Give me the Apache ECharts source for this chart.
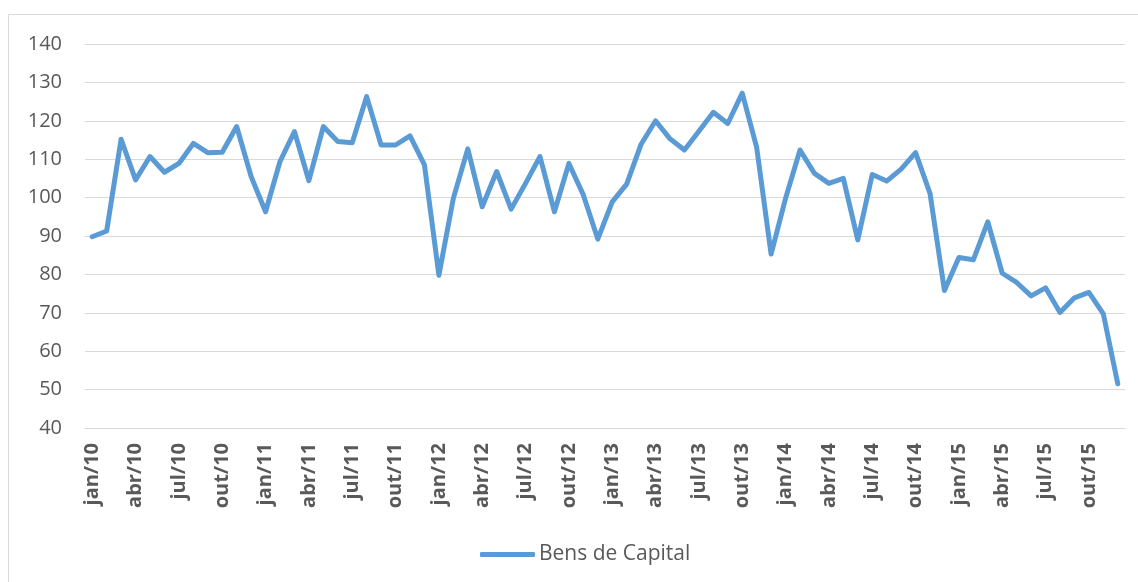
<!DOCTYPE html>
<html>
<head>
<meta charset="utf-8">
<script src="https://cdn.jsdelivr.net/npm/echarts@6/dist/echarts.min.js"></script>
<style>
  html, body { margin: 0; padding: 0; background: #fff; }
  #chart { width: 1138px; height: 582px; }
</style>
</head>
<body>
<div id="chart"></div>
<script>
// Bens de Capital - série mensal jan/10 a dez/15

const MONTHS = ['jan', 'fev', 'mar', 'abr', 'mai', 'jun', 'jul', 'ago', 'set', 'out', 'nov', 'dez'];
const YEARS = ['10', '11', '12', '13', '14', '15'];
const categories = YEARS.flatMap(y => MONTHS.map(m => m + '/' + y));

const bensCapital = [
  89.8, 91.3, 115.2, 104.6, 110.7, 106.6, 108.9, 114.1, 111.7, 111.8, 118.5, 105.5,
  96.3, 109.4, 117.2, 104.4, 118.5, 114.6, 114.3, 126.3, 113.7, 113.7, 116.1, 108.5,
  79.8, 99.8, 112.7, 97.6, 106.8, 97.0, 103.7, 110.7, 96.3, 108.9, 100.7, 89.2,
  98.9, 103.5, 113.9, 120.0, 115.3, 112.4, 117.3, 122.2, 119.3, 127.2, 113.1, 85.3,
  99.8, 112.4, 106.3, 103.7, 105.0, 89.0, 106.0, 104.3, 107.4, 111.7, 101.1, 75.8,
  84.4, 83.8, 93.7, 80.3, 77.9, 74.4, 76.5, 70.1, 73.9, 75.3, 69.7, 51.5
];

const yTicks = { min: 40, max: 140, interval: 10 };

const grey = '#d9d9d9';
const textColor = '#595959';

const chart = echarts.init(document.getElementById('chart'));

chart.setOption({
  animation: false,
  graphic: [{
    type: 'rect',
    shape: { x: 8.5, y: 14.5, width: 1140, height: 600 },
    style: { fill: 'none', stroke: grey, lineWidth: 1 },
    silent: true
  }],
  grid: { left: 85, right: 13, top: 44, bottom: 154 },
  legend: {
    data: ['Bens de Capital'],
    left: 475,
    top: 539,
    icon: 'roundRect',
    itemWidth: 55,
    itemHeight: 5,
    itemGap: 4,
    textStyle: { color: textColor, fontSize: 21, fontFamily: 'Open Sans', padding: [0, 0, 0, -1] }
  },
  xAxis: {
    type: 'category',
    data: categories,
    boundaryGap: true,
    axisLine: { lineStyle: { color: grey, width: 1 } },
    axisTick: { interval: 2, length: 6, lineStyle: { color: grey } },
    axisLabel: {
      interval: 2,
      rotate: 90,
      margin: 15,
      color: textColor,
      fontSize: 20,
      fontWeight: 'bold',
      fontFamily: 'Open Sans'
    },
    splitLine: { show: false }
  },
  yAxis: {
    type: 'value',
    min: yTicks.min,
    max: yTicks.max,
    interval: yTicks.interval,
    axisLine: { show: false },
    axisTick: { show: false },
    axisLabel: { color: textColor, fontSize: 20, margin: 23, fontFamily: 'Open Sans' },
    splitLine: { lineStyle: { color: grey, width: 1 } }
  },
  series: [{
    name: 'Bens de Capital',
    type: 'line',
    data: bensCapital,
    symbol: 'none',
    smooth: false,
    lineStyle: { color: '#5b9bd5', width: 5, cap: 'round', join: 'round' },
    itemStyle: { color: '#5b9bd5' }
  }]
});
</script>
</body>
</html>
